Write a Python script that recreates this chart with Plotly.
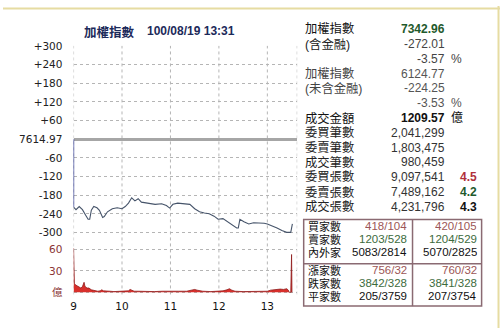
import plotly.graph_objects as go

W, H = 500, 331
def X(px): return px / W
def Y(py): return 1 - py / H

# ---------------- data ----------------
title_name = "加權指數"
title_time = "100/08/19 13:31"
prev_close_label = "7614.97"

# price: minutes after 09:00, change vs previous close
price_min = [0, 0, 3, 7, 11, 15, 18, 20, 22, 25, 29, 32, 36, 38, 42, 48, 54, 60, 64, 68,
             72, 76, 80, 84, 93, 101, 109, 115, 119, 123, 129, 138, 144, 150, 156, 162, 168, 174, 179, 185,
             191, 197, 202, 204, 206, 211, 217, 223, 229, 236, 240, 246, 252, 258, 264, 269, 271]
price_chg = [0, -218, -226, -216, -226, -244, -257, -257, -228, -216, -220, -228, -251, -248, -233, -223, -220, -223, -216, -205,
             -188, -198, -191, -202, -207, -209, -207, -213, -221, -209, -205, -207, -209, -223, -233, -237, -239, -247, -257, -255,
             -265, -275, -285, -285, -257, -265, -272, -268, -268, -270, -272, -278, -285, -293, -299, -299, -272]

# volume (億) per interval
vol_min = [0, 0.5, 1, 3, 5, 7, 9, 11, 12, 13, 14, 15, 17, 19, 22, 25, 27, 30, 33, 35,
           37, 40, 45, 50, 55, 60, 65, 68, 70, 72, 75, 80, 90, 100, 110, 120, 130, 140, 145, 148,
           150, 153, 157, 160, 170, 180, 185, 190, 193, 196, 200, 210, 220, 230, 240, 244, 248, 252, 256, 260,
           264, 266, 267, 269, 270, 270.5]
vol_val = [62, 30, 12, 10, 9, 7, 6, 8, 12, 14, 9, 7, 6, 6, 3.5, 2.5, 2, 1.5, 2, 3.5,
           2, 1.5, 1.5, 1, 1.5, 1, 1.5, 2, 4, 2.5, 1.5, 1.5, 1, 1, 1.5, 1, 1.5, 1.5, 2.5, 3.5,
           4, 3, 2, 1.5, 1, 1.5, 2, 3.5, 5, 3, 1.5, 1, 1.5, 1, 1.5, 3, 3.5, 5, 4.5, 4,
           5, 3, 0, 0, 53, 0]

x_tickvals = [0, 60, 120, 180, 240]
x_ticktext = ["9", "10", "11", "12", "13"]
p_tickvals = [-300, -240, -180, -120, -60, 0, 60, 120, 180, 240, 300]
p_ticktext = ["-300", "-240", "-180", "-120", "-60", prev_close_label, "+60", "+120", "+180", "+240", "+300"]
v_tickvals = [0, 30, 60]
v_ticktext = ["億", "30", "60"]

# right info panel
info_labels = ["加權指數", "(含金融)", "", "加權指數", "(未含金融)", "", "成交金額",
               "委買筆數", "委賣筆數", "成交筆數", "委買張數", "委賣張數", "成交張數"]
info_values = ["7342.96", "-272.01", "-3.57", "6124.77", "-224.25", "-3.53", "1209.57",
               "2,041,299", "1,803,475", "980,459", "9,097,541", "7,489,162", "4,231,796"]
info_units = ["", "", "%", "", "", "%", "億", "", "", "", "", "", ""]
info_ratio = ["", "", "", "", "", "", "", "", "", "", "4.5", "4.2", "4.3"]

tbl_labels = ["買家數", "賣家數", "內外家", "漲家數", "跌家數", "平家數"]
tbl_col1 = ["418/104", "1203/528", "5083/2814", "756/32", "3842/328", "205/3759"]
tbl_col2 = ["420/105", "1204/529", "5070/2825", "760/32", "3841/328", "207/3754"]

# ---------------- figure ----------------
CJK = "Noto Sans CJK TC"
SANS = "Liberation Sans, Arial, " + CJK
GRID = "#b5b5b5"

fig = go.Figure()
fig.add_trace(go.Scatter(x=price_min[:2], y=price_chg[:2], mode="lines",
                         line=dict(color="#1e2a8c", width=1.2), hoverinfo="skip",
                         xaxis="x", yaxis="y"))
fig.add_trace(go.Scatter(x=price_min[1:], y=price_chg[1:], mode="lines",
                         line=dict(color="#46546a", width=1.1), hoverinfo="skip",
                         xaxis="x", yaxis="y"))
fig.add_trace(go.Scatter(x=vol_min, y=vol_val, mode="lines", fill="tozeroy",
                         line=dict(color="#8e1c1c", width=0.8), fillcolor="#d8302c",
                         hoverinfo="skip", xaxis="x", yaxis="y2"))

x_lo, x_hi = 0, 277
p_dom = [Y(239.4), Y(41)]
v_dom = [Y(296.5), Y(247.4)]

shapes = []
for xv in x_tickvals + [x_hi]:
    shapes.append(dict(type="line", xref="x", yref="paper", x0=xv, x1=xv,
                       y0=Y(296.5), y1=Y(41), layer="below",
                       line=dict(color=GRID, width=1, dash="3px,3px")))
shapes.append(dict(type="line", xref="paper", yref="paper", x0=0, x1=1, y0=Y(2.5), y1=Y(2.5),
                   line=dict(color="#e6dca2", width=2)))
shapes.append(dict(type="line", xref="paper", yref="paper", x0=X(498.5), x1=X(498.5), y0=0, y1=1,
                   line=dict(color="#e6dca2", width=2)))
TB = "#8a6a72"
shapes.append(dict(type="rect", xref="paper", yref="paper", x0=X(302.5), x1=X(481.5),
                   y0=Y(308.5), y1=Y(219.5), line=dict(color=TB, width=1.5)))
shapes.append(dict(type="line", xref="paper", yref="paper", x0=X(302.5), x1=X(481.5),
                   y0=Y(265), y1=Y(265), line=dict(color=TB, width=1.5)))
shapes.append(dict(type="line", xref="paper", yref="paper", x0=X(412), x1=X(412),
                   y0=Y(308.5), y1=Y(219.5), line=dict(color=TB, width=1.5)))

ann = []
ann.append(dict(text="<b>" + title_name + "</b>", x=X(79), y=Y(26), xanchor="left", yanchor="middle",
                font=dict(family=CJK, size=12.5, color="#1c2a5a"), showarrow=False,
                xref="paper", yref="paper"))
ann.append(dict(text="<b>" + title_time + "</b>", x=X(143), y=Y(26), xanchor="left", yanchor="middle",
                font=dict(family=SANS, size=12, color="#1c2a5a"), showarrow=False,
                xref="paper", yref="paper"))

val_colors = ["#1f5a2c", "#444", "#444", "#555", "#555", "#555", "#111",
              "#333", "#333", "#333", "#333", "#333", "#333"]
lab_colors = ["#111", "#222", "#222", "#444", "#444", "#444", "#111",
              "#222", "#222", "#222", "#222", "#222", "#222"]
bold_vals = {0, 6}
ratio_colors = {"4.5": "#b0303a", "4.2": "#1f5a2c", "4.3": "#111"}
for i in range(len(info_labels)):
    yy = Y(24 + i * 15.2)
    if info_labels[i]:
        ann.append(dict(text=info_labels[i], x=X(302), y=yy, xanchor="left", yanchor="middle",
                        font=dict(family=SANS, size=12.3, color=lab_colors[i]), showarrow=False,
                        xref="paper", yref="paper"))
    t = info_values[i]
    if i in bold_vals:
        t = "<b>" + t + "</b>"
    ann.append(dict(text=t, x=X(447), y=yy, xanchor="right", yanchor="middle",
                    font=dict(family=SANS, size=12, color=val_colors[i]), showarrow=False,
                    xref="paper", yref="paper"))
    if info_units[i]:
        ann.append(dict(text=info_units[i], x=X(449), y=yy, xanchor="left", yanchor="middle",
                        font=dict(family=SANS, size=12, color=val_colors[i] if info_units[i] == "%" else "#111"),
                        showarrow=False, xref="paper", yref="paper"))
    if info_ratio[i]:
        ann.append(dict(text="<b>" + info_ratio[i] + "</b>", x=X(458), y=yy, xanchor="left", yanchor="middle",
                        font=dict(family=SANS, size=12, color=ratio_colors[info_ratio[i]]),
                        showarrow=False, xref="paper", yref="paper"))

tbl_y = [226, 239.3, 252.6, 271.6, 284.6, 297.6]
tbl_colors = ["#9c5656", "#3d6b3d", "#111", "#9c5656", "#3d6b3d", "#111"]
for i in range(len(tbl_labels)):
    yy = Y(tbl_y[i])
    ann.append(dict(text=tbl_labels[i], x=X(305), y=yy, xanchor="left", yanchor="middle",
                    font=dict(family=SANS, size=11, color="#111"), showarrow=False,
                    xref="paper", yref="paper", height=12, valign="middle"))
    ann.append(dict(text=tbl_col1[i], x=X(408.5), y=yy, xanchor="right", yanchor="middle",
                    font=dict(family=SANS, size=11.5, color=tbl_colors[i]), showarrow=False,
                    xref="paper", yref="paper", height=12, valign="middle"))
    ann.append(dict(text=tbl_col2[i], x=X(478.5), y=yy, xanchor="right", yanchor="middle",
                    font=dict(family=SANS, size=11.5, color=tbl_colors[i]), showarrow=False,
                    xref="paper", yref="paper", height=12, valign="middle"))

fig.update_layout(
    width=W, height=H, autosize=False,
    margin=dict(l=0, r=0, t=0, b=0, pad=0),
    paper_bgcolor="white", plot_bgcolor="white",
    showlegend=False,
    xaxis=dict(domain=[X(71), X(296)], range=[x_lo, x_hi], anchor="y2",
               tickvals=x_tickvals, ticktext=x_ticktext, showgrid=False, zeroline=False,
               showline=False, ticks="outside", ticklen=2, tickcolor="rgba(0,0,0,0)",
               tickfont=dict(family="DejaVu Sans", size=10.5, color="#111")),
    yaxis=dict(domain=p_dom, range=[-320, 300], anchor="x",
               tickvals=p_tickvals, ticktext=p_ticktext,
               showgrid=True, gridcolor=GRID, griddash="3px,3px", gridwidth=1,
               zeroline=True, zerolinecolor="#a6a6a6", zerolinewidth=2.5,
               showline=False, ticks="outside", ticklen=8, tickcolor="rgba(0,0,0,0)",
               tickfont=dict(family="DejaVu Sans", size=10.5, color="#222")),
    yaxis2=dict(domain=v_dom, range=[-3, 64], anchor="x",
                tickvals=v_tickvals, ticktext=v_ticktext,
                showgrid=True, gridcolor=GRID, griddash="3px,3px", gridwidth=1,
                zeroline=False, showline=False, ticks="outside", ticklen=8,
                tickcolor="rgba(0,0,0,0)",
                tickfont=dict(family="DejaVu Sans, " + CJK, size=10.5, color="#8a3434")),
    shapes=shapes, annotations=ann,
)

fig.write_html("out.html")
